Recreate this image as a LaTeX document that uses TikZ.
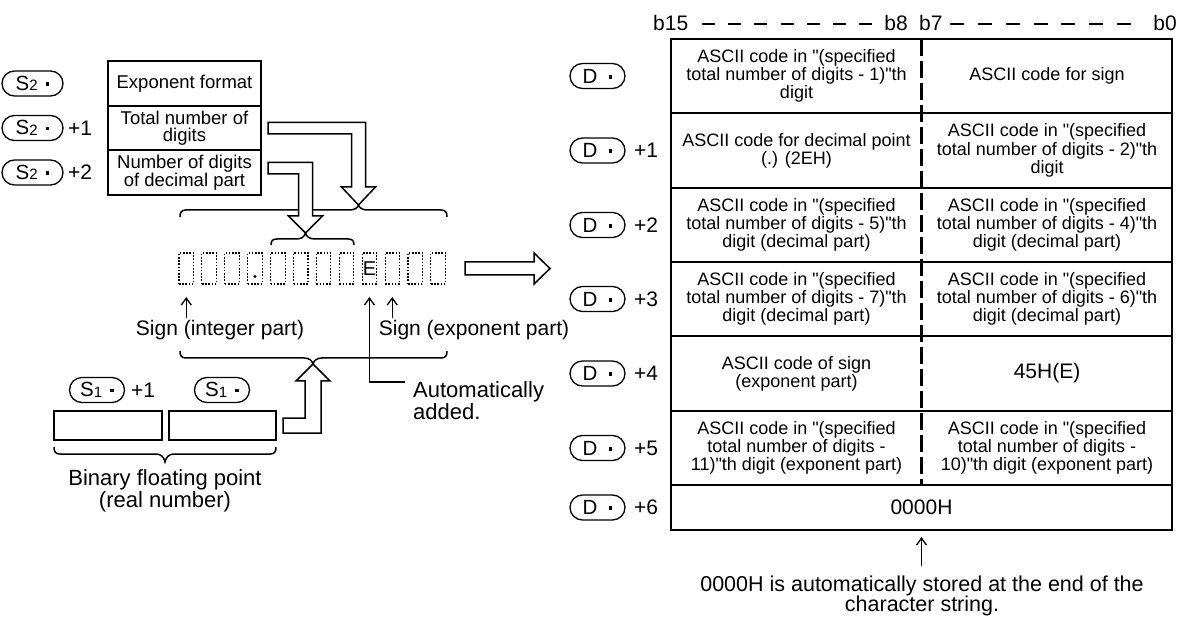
\documentclass[tikz,border=0pt]{standalone}
\usepackage{fontspec}
\newfontfamily\lsans{Liberation Sans}
\usetikzlibrary{arrows.meta}
\newcommand{\sqd}{\rule[4.5pt]{3.8pt}{3.8pt}}
\newcommand{\ovS}[1]{S{\fontsize{15}{15}\selectfont\raisebox{-0.5pt}{#1}}\hspace{8pt}\sqd\hspace{4pt}}
\newcommand{\ovD}{D\hspace{11pt}\sqd\hspace{5pt}}
\newcommand{\notefont}{\lsans\fontsize{21.5}{20.5}\selectfont\lineskiplimit=-30pt\relax}
\newcommand{\hbrace}[6]{%
\draw[brace] ({#1},{#4+(#6)}) .. controls ({#1},{#4+0.3*(#6)}) and ({#1+1.5},{#4}) .. ({#1+6},{#4})
 -- ({#3-9},{#4}) .. controls ({#3-4},{#4}) and ({#3-1},{#4+0.4*(#5)}) .. ({#3},{#4+(#5)})
 .. controls ({#3+1},{#4+0.4*(#5)}) and ({#3+4},{#4}) .. ({#3+9},{#4})
 -- ({#2-6},{#4}) .. controls ({#2-1.5},{#4}) and ({#2},{#4+0.3*(#6)}) .. ({#2},{#4+(#6)});}
\tikzset{
  cell/.style={align=center, font=\lsans\fontsize{18}{18.3}\selectfont, inner sep=0pt},
  boxtxt/.style={align=center, font=\lsans\fontsize{18.5}{17}\selectfont, inner sep=0pt},
  big/.style={align=center, font=\lsans\fontsize{21}{20}\selectfont, inner sep=0pt},
  bigger/.style={align=center, font=\lsans\fontsize{22}{22}\selectfont, inner sep=0pt},
  notetxt/.style={align=center, font=\notefont, inner sep=0pt},
  oval/.style={draw, line width=1.3pt, rounded corners=12.5pt, minimum width=59pt, minimum height=25pt, inner sep=0pt, font=\lsans\fontsize{20.5}{20}\selectfont},
  frame/.style={draw, line width=2pt, inner sep=0pt},
  tbl/.style={line width=2.2pt},
  hollow/.style={draw, line width=1.5pt, fill=white, line join=miter},
  brace/.style={line width=1.5pt},
  thinarrow/.style={line width=1.3pt, -{Straight Barb[length=7pt,width=10pt]}},
  digitbox/.style={draw, line width=1.1pt, dash pattern=on 1.6pt off 1.6pt, minimum width=14.5pt, minimum height=31pt, inner sep=0pt},
  hdash/.style={line width=1.4pt},
}
\begin{document}
\begin{tikzpicture}[x=1pt,y=-1pt]
\useasboundingbox (0,0) rectangle (1186,617);

% ---------- S2 block ----------
\node[oval, minimum width=61pt] (s2o0) at (32.5,83.5) {\ovS{2}};
\node[oval, minimum width=61pt] (s2o1) at (32.5,128) {\ovS{2}};
\node[oval, minimum width=61pt] (s2o2) at (32.5,172.5) {\ovS{2}};
\node[big, anchor=west] (s2p1) at (68,128) {+1};
\node[big, anchor=west] (s2p2) at (68,172.5) {+2};
\node[frame, minimum width=153pt, minimum height=45pt] (fmt) at (184.5,83.5) {};
\node[frame, minimum width=153pt, minimum height=44pt] (tot) at (184.5,128) {};
\node[frame, minimum width=153pt, minimum height=45pt] (dec) at (184.5,172.5) {};
\node[boxtxt] (fmtT) at (fmt.center) {Exponent format};
\node[boxtxt] (totT) at (tot.center) {Total number of\\digits};
\node[boxtxt] (decT) at (dec.center) {Number of digits\\of decimal part};

% ---------- digit boxes ----------
\foreach \i in {0,...,11} \node[digitbox] (d\i) at ({186.25+22.9*\i},268.5) {};
\fill (d3.center) ++(0,8) circle (1.6);
\node[inner sep=0pt, font=\lsans\fontsize{20}{20}\selectfont] (eLetter) at (d8.center) {E};

% ---------- braces ----------
\hbrace{180}{447}{358.5}{210}{-5}{7}
\hbrace{271}{354}{305.5}{239}{-6}{6}
\hbrace{180}{447}{313}{358}{6}{-7}
\hbrace{54}{276}{165}{454}{8}{-7}

% ---------- hollow arrows ----------
\draw[hollow] (268,122.5) -- (365.5,122.5) -- (365.5,187) -- (375.5,187) -- (358.5,205) -- (341.5,187) -- (351.5,187) -- (351.5,134) -- (268,134) -- cycle;
\draw[hollow] (268,162.5) -- (312.5,162.5) -- (312.5,216) -- (322.5,216) -- (305.5,233) -- (288.5,216) -- (298.5,216) -- (298.5,174) -- (268,174) -- cycle;
\draw[hollow] (283,418) -- (305,418) -- (305,381) -- (296,381) -- (313,364) -- (330,381) -- (321,381) -- (321,433) -- (283,433) -- cycle;
\draw[hollow] (465,262) -- (534,262) -- (534,253) -- (550,268.5) -- (534,284) -- (534,275) -- (465,275) -- cycle;

% ---------- sign arrows ----------
\coordinate (siB) at (186.25,318);
\coordinate (siT) at (186.25,297);
\coordinate (seB) at (392.25,318);
\coordinate (seT) at (392.25,297);
\coordinate (auE) at (405,382);
\coordinate (auC) at (369.45,382);
\coordinate (auT) at (369.45,297);
\draw[thinarrow] (siB) -- (siT);
\draw[thinarrow] (seB) -- (seT);
\draw[thinarrow] (auE) -- (auC) -- (auT);
\node[big] (sgi) at (220,330) {Sign (integer part)};
\node[big] (sge) at (474,330) {Sign (exponent part)};
\node[bigger, anchor=west, align=left] (auto) at (413,401) {Automatically\\added.};

% ---------- S1 block ----------
\node[oval, minimum width=55pt] (s1o1) at (97,390) {\ovS{1}};
\node[big, anchor=west] (s1p1) at (131,390) {+1};
\node[oval, minimum width=55pt] (s1o0) at (222,390) {\ovS{1}};
\node[frame, minimum width=108pt, minimum height=29pt] (s1h) at (108,425.5) {};
\node[frame, minimum width=107pt, minimum height=29pt] (s1l) at (222.5,425.5) {};
\node[bigger] (bin) at (165,491) {Binary floating point\\(real number)};

% ---------- header ----------
\node[big, anchor=west] (b15) at (653,23) {b15};
\node[big, anchor=east] (b8) at (908,23) {b8};
\node[big, anchor=west] (b7) at (919,23) {b7};
\node[big, anchor=east] (b0) at (1177,23) {b0};
\foreach \k in {0,...,6} {
  \draw[hdash] ({702+26.17*\k},24) -- ({715+26.17*\k},24);
  \draw[hdash] ({950+27.83*\k},24) -- ({964+27.83*\k},24);
}

% ---------- table ----------
\draw[tbl] (671,39) rectangle (1172,530);
\foreach \y in {113,188,262,336,411,485} \draw[tbl] (671,\y) -- (1172,\y);
\draw[tbl, dash pattern=on 17pt off 5pt] (921.5,39) -- (921.5,485);

\node[oval, minimum width=55pt] (dd0) at (597.5,76) {\ovD};
\node[oval, minimum width=55pt] (dd1) at (597.5,150.5) {\ovD};
\node[oval, minimum width=55pt] (dd2) at (597.5,225) {\ovD};
\node[oval, minimum width=55pt] (dd3) at (597.5,299) {\ovD};
\node[oval, minimum width=55pt] (dd4) at (597.5,373.5) {\ovD};
\node[oval, minimum width=55pt] (dd5) at (597.5,448) {\ovD};
\node[oval, minimum width=55pt] (dd6) at (597.5,507.5) {\ovD};
\node[big, anchor=west] (dp1) at (634,150.5) {+1};
\node[big, anchor=west] (dp2) at (634,225) {+2};
\node[big, anchor=west] (dp3) at (634,299) {+3};
\node[big, anchor=west] (dp4) at (634,373.5) {+4};
\node[big, anchor=west] (dp5) at (634,448) {+5};
\node[big, anchor=west] (dp6) at (634,507.5) {+6};

\node[cell] (c0l) at (796.5,76) {ASCII code in "(specified\\total number of digits - 1)"th\\digit};
\node[cell] (c0r) at (1047,76) {ASCII code for sign};
\node[cell] (c1l) at (796.5,150.5) {ASCII code for decimal point\\(.) (2EH)};
\node[cell] (c1r) at (1047,150.5) {ASCII code in "(specified\\total number of digits - 2)"th\\digit};
\node[cell] (c2l) at (796.5,225) {ASCII code in "(specified\\total number of digits - 5)"th\\digit (decimal part)};
\node[cell] (c2r) at (1047,225) {ASCII code in "(specified\\total number of digits - 4)"th\\digit (decimal part)};
\node[cell] (c3l) at (796.5,299) {ASCII code in "(specified\\total number of digits - 7)"th\\digit (decimal part)};
\node[cell] (c3r) at (1047,299) {ASCII code in "(specified\\total number of digits - 6)"th\\digit (decimal part)};
\node[cell] (c4l) at (796.5,373.5) {ASCII code of sign\\(exponent part)};
\node[big] (c4r) at (1047,373.5) {45H(E)};
\node[cell] (c5l) at (796.5,448) {ASCII code in "(specified\\total number of digits -\\11)"th digit (exponent part)};
\node[cell] (c5r) at (1047,448) {ASCII code in "(specified\\total number of digits -\\10)"th digit (exponent part)};
\node[big] (c6) at (921.5,507.5) {0000H};

% ---------- bottom note ----------
\node[notetxt] (note) at (922,596) {0000H is automatically stored at the end of the\\character string.};
\coordinate (nT) at (921.5,537);
\coordinate (nB) at (921.5,566);
\draw[thinarrow] (nB) -- (nT);
\end{tikzpicture}
\end{document}
